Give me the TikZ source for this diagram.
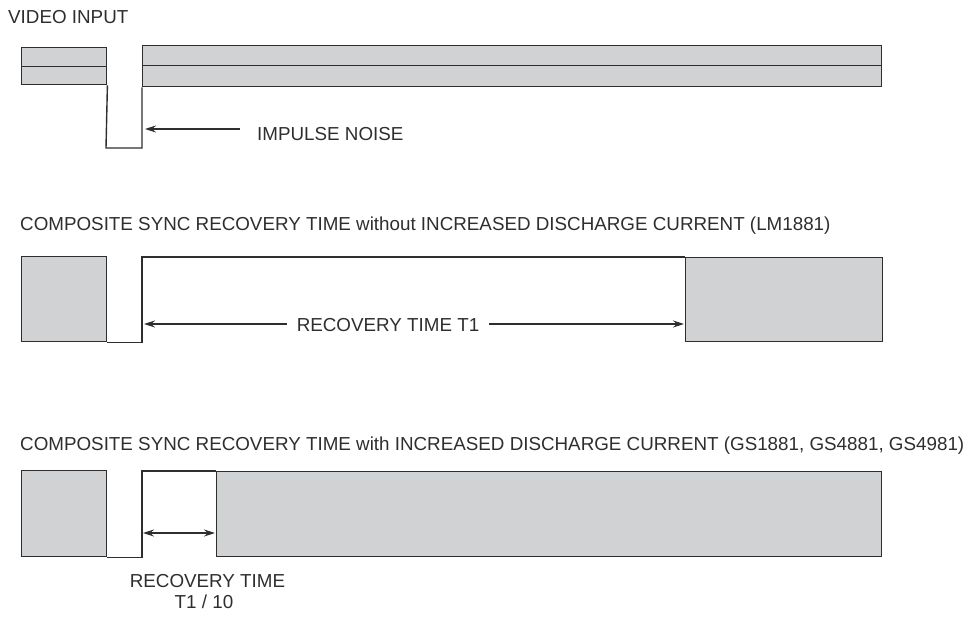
\documentclass[tikz,border=0pt]{standalone}
\usepackage{fontspec}
\setmainfont{Liberation Sans}
\usetikzlibrary{arrows.meta}
\definecolor{boxgray}{HTML}{D1D2D4}
\definecolor{ink}{HTML}{2E2E2E}
\tikzset{
  sig/.style={draw=ink, line width=1.4pt, fill=boxgray, rectangle, inner sep=0pt, anchor=north west},
  wave/.style={draw=ink, line width=1.4pt},
  lbl/.style={text=ink, inner sep=0pt, font=\fontsize{18.8}{22}\selectfont},
  arr/.style={draw=ink, line width=1.1pt, -{Stealth[length=11pt,width=7pt]}},
  darr/.style={draw=ink, line width=1.1pt, {Stealth[length=11pt,width=7pt]}-{Stealth[length=11pt,width=7pt]}}
}
\begin{document}
\begin{tikzpicture}[x=1pt,y=-1pt]
\useasboundingbox (0,0) rectangle (964,616);
% ---------- VIDEO INPUT ----------
\node[lbl, anchor=base west] (t1) at (8,23) {VIDEO INPUT};
\node[sig, minimum width=85pt, minimum height=37pt] (L1) at (21,47) {};
\node[sig, minimum width=739pt, minimum height=41pt] (R1) at (142,45) {};
\draw[wave] (L1.west) -- (L1.east);
\draw[wave] ([yshift=1pt]R1.west) -- ([yshift=1pt]R1.east);
\coordinate (p1) at (106,148);
\draw[wave] (L1.south east) -- (p1) -| (R1.south west);
\node[lbl, anchor=base west] (imp) at (257,140) {IMPULSE NOISE};
\coordinate (a1s) at (240,129);
\coordinate (a1) at (145,129);
\draw[arr] (a1s) -- (a1);
% ---------- WITHOUT ----------
\node[lbl, anchor=base west] (t2) at (20,230) {COMPOSITE SYNC RECOVERY TIME without INCREASED DISCHARGE CURRENT (LM1881)};
\node[sig, minimum width=85pt, minimum height=85pt] (L2) at (21,256) {};
\node[sig, minimum width=197pt, minimum height=84pt] (R2) at (685,257) {};
\coordinate (c2) at (142,257);
\draw[wave] (L2.south east) -| (c2) -- (R2.north west);
\node[lbl, anchor=base] (rt1) at (388,331) {RECOVERY TIME T1};
\coordinate (a2l) at (144,324);
\coordinate (a2r) at (684,324);
\draw[arr] ([xshift=-10pt]rt1.west |- a2l) -- (a2l);
\draw[arr] ([xshift=10pt]rt1.east |- a2r) -- (a2r);
% ---------- WITH ----------
\node[lbl, anchor=base west] (t3) at (20,450) {COMPOSITE SYNC RECOVERY TIME with INCREASED DISCHARGE CURRENT (GS1881, GS4881, GS4981)};
\node[sig, minimum width=85pt, minimum height=86pt] (L3) at (21,470) {};
\node[sig, minimum width=665pt, minimum height=85pt] (R3) at (216,471) {};
\coordinate (c3) at (142,471);
\draw[wave] (L3.south east) -| (c3) -- (R3.north west);
\coordinate (d3l) at (143,533);
\coordinate (d3r) at (215,533);
\draw[darr] (d3l) -- (d3r);
\node[lbl, anchor=base] (rt2) at (207.5,587) {RECOVERY TIME};
\node[lbl, anchor=base] (rt3) at (204,608) {T1 / 10};
\end{tikzpicture}
\end{document}
